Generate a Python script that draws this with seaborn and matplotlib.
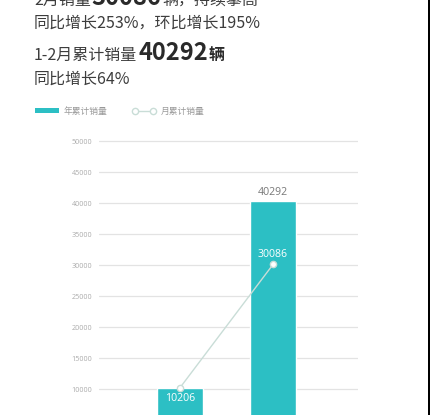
import matplotlib
matplotlib.use("Agg")
import matplotlib.pyplot as plt
from matplotlib.patches import Patch, Rectangle
from matplotlib.lines import Line2D
import seaborn as sns
import pandas as pd

# ---- data ----
months = ["1月", "2月"]
ytd_sales = [10206, 40292]      # 年累计销量
monthly_sales = [10206, 30086]  # 月累计销量
yticks = [0, 5000, 10000, 15000, 20000, 25000, 30000, 35000, 40000, 45000, 50000]
headline_lines = [
    ("2月销量", "30086", "辆，持续攀高"),
    ("同比增长253%，环比增长195%", "", ""),
    ("1-2月累计销量", "40292", "辆"),
    ("同比增长64%", "", ""),
]
legend_labels = ["年累计销量", "月累计销量"]

TEAL = "#2cbfc4"
LINEC = "#c9ddd7"
CJK = ["Noto Sans CJK SC", "DejaVu Sans"]

sns.set_theme(style="white")
plt.rcParams["font.family"] = CJK

W, H = 430, 415
fig = plt.figure(figsize=(W / 100, H / 100), dpi=100)
fig.patch.set_facecolor("white")

def fx(px):
    return px / W

def fy(py):
    return 1 - py / H

# axes: y=0 at 451px, y=50500 at ~138px
ymax = 50500
y0_px, per_px = 451, 62 / 10000
top_px = y0_px - ymax * per_px
ax = fig.add_axes([fx(99), fy(y0_px), fx(358 - 99), (y0_px - top_px) / H])

df = pd.DataFrame({"month": months, "ytd": ytd_sales, "monthly": monthly_sales})
sns.barplot(data=df, x="month", y="ytd", color=TEAL, saturation=1, width=0.484,
            ax=ax, zorder=2)
sns.pointplot(data=df, x="month", y="monthly", color=LINEC, ax=ax,
              markers="o", linestyles="-", linewidth=1.0,
              markersize=4.5, markerfacecolor="white", markeredgecolor=LINEC,
              markeredgewidth=1.0, zorder=4)

ax.set_xlim(-0.871, 1.914)
ax.set_ylim(0, ymax)
ax.set_yticks(yticks)
ax.set_yticklabels([str(v) for v in yticks], fontsize=5.2, color="#acacac",
                   family=["Open Sans", "DejaVu Sans"])
ax.tick_params(axis="y", length=0, pad=5)
ax.set_xticks([])
ax.set_xlabel("")
ax.set_ylabel("")
for s in ax.spines.values():
    s.set_visible(False)
ax.grid(axis="y", color="#e3e3e3", linewidth=0.9, zorder=0)
ax.set_axisbelow(True)

# value labels
num_font = ["Open Sans", "DejaVu Sans"]
ax.annotate(str(ytd_sales[1]), (1, ytd_sales[1]), xytext=(0, 6.5), textcoords="offset points",
            ha="center", va="center", fontsize=7.6, color="#777777", family=num_font)
ax.annotate(str(monthly_sales[1]), (1, monthly_sales[1]), xytext=(0, 7), textcoords="offset points",
            ha="center", va="center", fontsize=7.6, color="white", family=num_font, zorder=5)
ax.annotate(str(monthly_sales[0]), (0, monthly_sales[0]), xytext=(0, -7.5), textcoords="offset points",
            ha="center", va="center", fontsize=7.6, color="white", family=num_font, zorder=5)

# headline text
renderer = fig.canvas.get_renderer()
baselines = [5, 28, 60, 84]
for (a, b, c), base in zip(headline_lines, baselines):
    t = fig.text(fx(34), fy(base), a, fontsize=11.5, color="#3d3d3d", va="baseline", ha="left")
    x_px = t.get_window_extent(renderer).x1
    if b:
        tb = fig.text(x_px / W + 0.002, fy(base), b, fontsize=17, fontweight="bold", color="#2a2a2a",
                      va="baseline", ha="left")
        x_px = tb.get_window_extent(renderer).x1
        fig.text(x_px / W + 0.002, fy(base), c, fontsize=11.5 if "，" in c else 11.5,
                 fontweight="bold" if "，" not in c else "normal",
                 color="#2a2a2a" if "，" not in c else "#3d3d3d", va="baseline", ha="left")

# legend
handles = [
    Patch(facecolor=TEAL, edgecolor="none"),
    Line2D([0], [0], color=LINEC, lw=1.0, marker="o", markersize=4.5,
           markerfacecolor="white", markeredgecolor=LINEC),
]
leg = fig.legend(handles, legend_labels, loc="center left", bbox_to_anchor=(fx(35), fy(111)),
                 ncol=2, frameon=False, fontsize=6.3, handlelength=2.7, handleheight=0.6,
                 handletextpad=0.6, columnspacing=2.8, numpoints=2, borderaxespad=0, borderpad=0)
for txt in leg.get_texts():
    txt.set_color("#999999")

# dark edge on the right
fig.add_artist(Rectangle((fx(428), 0), fx(2), 1, transform=fig.transFigure,
                         facecolor="black", edgecolor="none"))

fig.savefig("out.png", dpi=100, facecolor="white")
